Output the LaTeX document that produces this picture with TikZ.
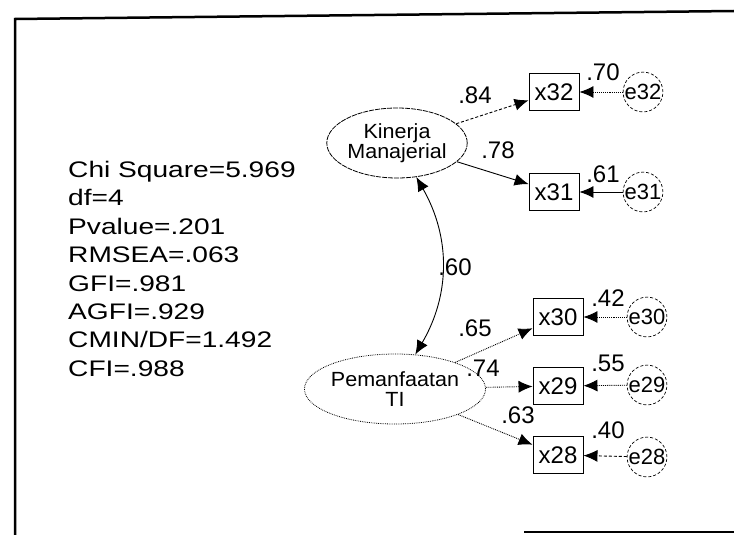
\documentclass[tikz,border=0pt]{standalone}
\usepackage{fontspec}
\setmainfont{Liberation Sans}
\newfontfamily\statfont[FakeStretch=1.25]{Liberation Sans}
\newfontfamily\latfont[FakeStretch=1.05]{Liberation Sans}
\usetikzlibrary{positioning, arrows.meta, shapes.geometric}

\begin{document}
\begin{tikzpicture}[x=1pt, y=1pt, node distance=89pt, every node/.style={font=\fontsize{24}{26}\selectfont}]
    \tikzstyle{latent} = [draw, ellipse, minimum width=120pt, minimum height=70pt, inner sep=0pt, align=center, font=\latfont\fontsize{20.5}{20.5}\selectfont, line width=0.8pt]
    \tikzstyle{obs} = [draw, rectangle, minimum width=50pt, minimum height=37pt, inner sep=0pt, line width=0.9pt]
    \tikzstyle{err} = [draw, circle, minimum size=38pt, inner sep=0pt, font=\fontsize{22}{24}\selectfont, line width=0.7pt, densely dashed]
    \tikzstyle{coef} = [inner sep=0pt]
    \tikzstyle{arrow} = [line width=0.9pt, -{Latex[length=14pt, width=12pt]}]
    \tikzstyle{dblarrow} = [line width=0.9pt, {Latex[length=14pt, width=12pt]}-{Latex[length=14pt, width=12pt]}]
    \tikzstyle{frame} = [line width=2.5pt]

    \useasboundingbox (0,0) rectangle (734,-535);

    % Frame
    \draw [frame] (15,-535) -- (15,-19) -- (734,-11);
    \draw [frame] (524,-532) -- (734,-532);

    % Fit statistics
    \node (stats) [anchor=north west, inner sep=0pt, align=left, font=\statfont\fontsize{22.5}{28.4}\selectfont] at (68,-161)
        {Chi Square=5.969\\df=4\\Pvalue=.201\\RMSEA=.063\\GFI=.981\\AGFI=.929\\CMIN/DF=1.492\\CFI=.988};

    % Latent variables
    \node (km) [latent, dash pattern=on 5pt off 1pt] at (397,-143) {Kinerja\\Manajerial};
    \node (pti) [latent, densely dotted] at (395,-389) {Pemanfaatan\\TI};

    % Indicators
    \node (x32) [obs] at (554,-92) {x32};
    \node (x31) [obs] at (554,-192) {x31};
    \node (x30) [obs] at (558,-317) {x30};
    \node (x29) [obs] at (558,-386) {x29};
    \node (x28) [obs] at (558,-455) {x28};

    % Error terms
    \node (e32) [err, right of=x32] {e32};
    \node (e31) [err, right of=x31] {e31};
    \node (e30) [err, right of=x30] {e30};
    \node (e29) [err, right of=x29, yshift=1pt] {e29};
    \node (e28) [err, right of=x28, yshift=-2pt] {e28};

    % Arrows
    \draw [arrow, densely dashed] (km) -- (x32);
    \draw [arrow] (km) -- (x31);
    \draw [dblarrow] (km) to[bend left=30] (pti);
    \draw [arrow, densely dotted] (pti) -- (x30);
    \draw [arrow, densely dotted] (pti) -- (x29);
    \draw [arrow, densely dotted] (pti) -- (x28);
    \draw [arrow, densely dotted] (e32) -- (x32);
    \draw [arrow] (e31) -- (x31);
    \draw [arrow, densely dotted] (e30) -- (x30);
    \draw [arrow, densely dotted] (e29) -- (x29);
    \draw [arrow, densely dashed] (e28) -- (x28);

    % Coefficients
    \node (c84) [coef] at (475,-95) {.84};
    \node (c78) [coef] at (498,-150) {.78};
    \node (c70) [coef] at (603,-72) {.70};
    \node (c61) [coef] at (603,-174) {.61};
    \node (c60) [coef] at (455,-267) {.60};
    \node (c65) [coef] at (475,-328) {.65};
    \node (c74) [coef] at (483,-368) {.74};
    \node (c63) [coef] at (518,-415) {.63};
    \node (c42) [coef] at (608,-298) {.42};
    \node (c55) [coef] at (608,-363) {.55};
    \node (c40) [coef] at (608,-430) {.40};
\end{tikzpicture}
\end{document}
